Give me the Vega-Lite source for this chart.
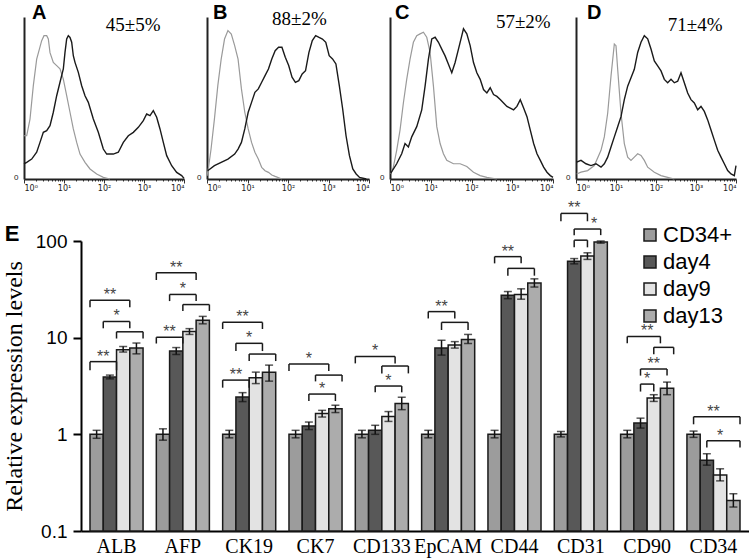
{
  "$schema": "https://vega.github.io/schema/vega-lite/v6.json",
  "background": "white",
  "padding": {"left": 2, "top": 3, "right": 0, "bottom": 2},
  "config": {"view": {"stroke": null}, "font": "Liberation Sans"},
  "datasets": {
    "A_control": [{"decade":0,"count":26.7},{"decade":0.067,"count":26.7},{"decade":0.15,"count":37},{"decade":0.233,"count":57.6},{"decade":0.317,"count":74},{"decade":0.383,"count":80},{"decade":0.442,"count":85.4},{"decade":0.5,"count":88.5},{"decade":0.567,"count":88.5},{"decade":0.608,"count":86.4},{"decade":0.65,"count":78},{"decade":0.733,"count":72},{"decade":0.817,"count":70},{"decade":0.9,"count":68},{"decade":0.983,"count":61.7},{"decade":1.067,"count":51.4},{"decade":1.15,"count":41.2},{"decade":1.233,"count":30.9},{"decade":1.317,"count":22.6},{"decade":1.4,"count":15.4},{"decade":1.525,"count":10.3},{"decade":1.65,"count":6.2},{"decade":1.817,"count":3.1},{"decade":1.983,"count":1},{"decade":2.15,"count":0}],
    "A_stained": [{"decade":0,"count":9.3},{"decade":0.067,"count":10.3},{"decade":0.192,"count":12.3},{"decade":0.317,"count":16.5},{"decade":0.4,"count":22.6},{"decade":0.483,"count":28.8},{"decade":0.567,"count":29.8},{"decade":0.65,"count":32.9},{"decade":0.733,"count":41.2},{"decade":0.817,"count":51.4},{"decade":0.9,"count":59.7},{"decade":0.983,"count":67.9},{"decade":1.025,"count":78.2},{"decade":1.067,"count":86.4},{"decade":1.108,"count":88.5},{"decade":1.15,"count":87.4},{"decade":1.192,"count":84.4},{"decade":1.233,"count":76.1},{"decade":1.275,"count":72},{"decade":1.358,"count":65.8},{"decade":1.442,"count":57.6},{"decade":1.525,"count":51.4},{"decade":1.608,"count":47.3},{"decade":1.733,"count":37},{"decade":1.858,"count":28.8},{"decade":1.983,"count":18.5},{"decade":2.067,"count":15.4},{"decade":2.233,"count":15.4},{"decade":2.358,"count":16.5},{"decade":2.483,"count":22.6},{"decade":2.608,"count":26.7},{"decade":2.733,"count":28.8},{"decade":2.858,"count":31.9},{"decade":2.983,"count":36},{"decade":3.067,"count":40.1},{"decade":3.15,"count":39.1},{"decade":3.233,"count":42.2},{"decade":3.317,"count":38.1},{"decade":3.4,"count":30.9},{"decade":3.483,"count":22.6},{"decade":3.567,"count":14.4},{"decade":3.692,"count":8.2},{"decade":3.817,"count":4.1},{"decade":3.942,"count":2.1},{"decade":4,"count":0.4}],
    "B_control": [{"decade":0,"count":2},{"decade":0.033,"count":6.2},{"decade":0.1,"count":18.5},{"decade":0.183,"count":37},{"decade":0.267,"count":57.6},{"decade":0.35,"count":74},{"decade":0.433,"count":86.4},{"decade":0.517,"count":91.6},{"decade":0.6,"count":89.5},{"decade":0.683,"count":82.3},{"decade":0.767,"count":74},{"decade":0.85,"count":55.6},{"decade":0.933,"count":41.2},{"decade":1.017,"count":30.9},{"decade":1.1,"count":22.6},{"decade":1.183,"count":16.5},{"decade":1.267,"count":12.3},{"decade":1.35,"count":7.2},{"decade":1.433,"count":5.1},{"decade":1.517,"count":4.1},{"decade":1.6,"count":2.5},{"decade":1.683,"count":1.6},{"decade":1.85,"count":0}],
    "B_stained": [{"decade":0.017,"count":5.1},{"decade":0.183,"count":8.2},{"decade":0.35,"count":10.3},{"decade":0.517,"count":12.3},{"decade":0.683,"count":15.4},{"decade":0.767,"count":18.5},{"decade":0.85,"count":22.6},{"decade":0.933,"count":30.9},{"decade":1.017,"count":41.2},{"decade":1.1,"count":47.3},{"decade":1.183,"count":53.5},{"decade":1.267,"count":55.6},{"decade":1.35,"count":59.7},{"decade":1.433,"count":63.8},{"decade":1.517,"count":67.9},{"decade":1.6,"count":74.1},{"decade":1.683,"count":79.2},{"decade":1.767,"count":81.3},{"decade":1.85,"count":81.3},{"decade":1.933,"count":75.1},{"decade":2.017,"count":70},{"decade":2.1,"count":62.8},{"decade":2.183,"count":59.7},{"decade":2.267,"count":60.7},{"decade":2.35,"count":64.8},{"decade":2.433,"count":66.9},{"decade":2.517,"count":78.2},{"decade":2.6,"count":85.4},{"decade":2.683,"count":88.5},{"decade":2.767,"count":87.4},{"decade":2.85,"count":86.4},{"decade":2.933,"count":84.4},{"decade":3.017,"count":76.1},{"decade":3.1,"count":74.1},{"decade":3.183,"count":71},{"decade":3.267,"count":57.6},{"decade":3.35,"count":43.2},{"decade":3.433,"count":26.7},{"decade":3.517,"count":14.4},{"decade":3.6,"count":6.2},{"decade":3.683,"count":3.1},{"decade":3.767,"count":1},{"decade":3.933,"count":0}],
    "C_control": [{"decade":0.016,"count":3.1},{"decade":0.082,"count":7.3},{"decade":0.164,"count":17.7},{"decade":0.246,"count":30.2},{"decade":0.328,"count":46.9},{"decade":0.41,"count":61.5},{"decade":0.492,"count":74},{"decade":0.574,"count":84.4},{"decade":0.656,"count":88.5},{"decade":0.738,"count":89.6},{"decade":0.82,"count":90.6},{"decade":0.902,"count":87.5},{"decade":0.984,"count":78.1},{"decade":1.066,"count":57.3},{"decade":1.148,"count":32.3},{"decade":1.23,"count":21.9},{"decade":1.311,"count":15.6},{"decade":1.393,"count":11.5},{"decade":1.557,"count":9.4},{"decade":1.721,"count":9.4},{"decade":1.885,"count":7.7},{"decade":2.049,"count":4.2},{"decade":2.213,"count":2.1},{"decade":2.377,"count":1},{"decade":2.623,"count":0}],
    "C_stained": [{"decade":0.016,"count":3.5},{"decade":0.164,"count":9.4},{"decade":0.287,"count":15.6},{"decade":0.369,"count":21.9},{"decade":0.451,"count":19.8},{"decade":0.533,"count":26},{"decade":0.656,"count":32.3},{"decade":0.779,"count":42.7},{"decade":0.861,"count":57.3},{"decade":0.943,"count":74},{"decade":1.025,"count":86.5},{"decade":1.107,"count":87.5},{"decade":1.189,"count":84.4},{"decade":1.27,"count":80.2},{"decade":1.352,"count":76},{"decade":1.434,"count":70.8},{"decade":1.516,"count":65.6},{"decade":1.598,"count":71.9},{"decade":1.68,"count":80.2},{"decade":1.762,"count":88.5},{"decade":1.803,"count":92.7},{"decade":1.885,"count":89.6},{"decade":1.967,"count":82.3},{"decade":2.049,"count":71.9},{"decade":2.131,"count":65.6},{"decade":2.213,"count":61.5},{"decade":2.295,"count":55.2},{"decade":2.377,"count":53.1},{"decade":2.459,"count":56.3},{"decade":2.541,"count":52.1},{"decade":2.623,"count":51},{"decade":2.705,"count":49},{"decade":2.787,"count":46.9},{"decade":2.869,"count":44.8},{"decade":2.951,"count":43.8},{"decade":3.033,"count":42.7},{"decade":3.115,"count":44.8},{"decade":3.197,"count":49},{"decade":3.279,"count":43.8},{"decade":3.361,"count":38.5},{"decade":3.443,"count":30.2},{"decade":3.525,"count":21.9},{"decade":3.607,"count":15.6},{"decade":3.689,"count":11.5},{"decade":3.77,"count":7.3},{"decade":3.852,"count":4.2},{"decade":3.934,"count":2.1},{"decade":4,"count":1}],
    "D_control": [{"decade":0.017,"count":3.1},{"decade":0.125,"count":4.2},{"decade":0.292,"count":5.2},{"decade":0.458,"count":8.3},{"decade":0.625,"count":17.7},{"decade":0.708,"count":26},{"decade":0.792,"count":40.6},{"decade":0.875,"count":63.5},{"decade":0.958,"count":83.3},{"decade":1.0,"count":82.3},{"decade":1.042,"count":67.7},{"decade":1.125,"count":40.6},{"decade":1.208,"count":21.9},{"decade":1.292,"count":13.5},{"decade":1.375,"count":11.5},{"decade":1.458,"count":13.5},{"decade":1.542,"count":15.6},{"decade":1.625,"count":14.6},{"decade":1.708,"count":11.5},{"decade":1.792,"count":7.3},{"decade":1.958,"count":4.2},{"decade":2.125,"count":2.1},{"decade":2.292,"count":1},{"decade":2.458,"count":0}],
    "D_stained": [{"decade":0.017,"count":10.4},{"decade":0.125,"count":11.5},{"decade":0.25,"count":9.4},{"decade":0.375,"count":8.3},{"decade":0.5,"count":9.4},{"decade":0.625,"count":7.3},{"decade":0.708,"count":9.4},{"decade":0.792,"count":13.5},{"decade":0.875,"count":19.8},{"decade":0.958,"count":26},{"decade":1.042,"count":32.3},{"decade":1.125,"count":38.5},{"decade":1.208,"count":49},{"decade":1.292,"count":57.3},{"decade":1.375,"count":62.5},{"decade":1.458,"count":67.7},{"decade":1.542,"count":78.1},{"decade":1.625,"count":84.4},{"decade":1.708,"count":88.5},{"decade":1.792,"count":86.5},{"decade":1.875,"count":80.2},{"decade":1.958,"count":72.9},{"decade":2.042,"count":69.8},{"decade":2.125,"count":66.7},{"decade":2.208,"count":61.5},{"decade":2.292,"count":59.4},{"decade":2.375,"count":61.5},{"decade":2.458,"count":59.4},{"decade":2.542,"count":60.4},{"decade":2.625,"count":65.6},{"decade":2.708,"count":59.4},{"decade":2.792,"count":53.1},{"decade":2.875,"count":49},{"decade":2.958,"count":46.9},{"decade":3.042,"count":42.7},{"decade":3.125,"count":44.8},{"decade":3.208,"count":41.7},{"decade":3.292,"count":36.5},{"decade":3.375,"count":30.2},{"decade":3.458,"count":24},{"decade":3.542,"count":17.7},{"decade":3.625,"count":13.5},{"decade":3.708,"count":9.4},{"decade":3.792,"count":5.2},{"decade":3.875,"count":3.1},{"decade":3.958,"count":2.1},{"decade":4,"count":8.3}],
    "expr": [
      {"gene":"ALB","group":"CD34+","value":1,"lo":0.91,"hi":1.1},{"gene":"ALB","group":"day4","value":3.92,"lo":3.75,"hi":4.1},{"gene":"ALB","group":"day9","value":7.5,"lo":7.1,"hi":8.1},{"gene":"ALB","group":"day13","value":7.8,"lo":6.8,"hi":8.8},
      {"gene":"AFP","group":"CD34+","value":1,"lo":0.87,"hi":1.14},{"gene":"AFP","group":"day4","value":7.3,"lo":6.7,"hi":7.9},{"gene":"AFP","group":"day9","value":11.6,"lo":10.8,"hi":12.4},{"gene":"AFP","group":"day13","value":15.1,"lo":13.9,"hi":16.6},
      {"gene":"CK19","group":"CD34+","value":1,"lo":0.92,"hi":1.1},{"gene":"CK19","group":"day4","value":2.43,"lo":2.18,"hi":2.7},{"gene":"CK19","group":"day9","value":3.85,"lo":3.35,"hi":4.4},{"gene":"CK19","group":"day13","value":4.4,"lo":3.55,"hi":5.2},
      {"gene":"CK7","group":"CD34+","value":1,"lo":0.92,"hi":1.1},{"gene":"CK7","group":"day4","value":1.22,"lo":1.12,"hi":1.34},{"gene":"CK7","group":"day9","value":1.64,"lo":1.51,"hi":1.77},{"gene":"CK7","group":"day13","value":1.84,"lo":1.68,"hi":2.0},
      {"gene":"CD133","group":"CD34+","value":1,"lo":0.92,"hi":1.1},{"gene":"CD133","group":"day4","value":1.1,"lo":1.0,"hi":1.24},{"gene":"CD133","group":"day9","value":1.53,"lo":1.36,"hi":1.72},{"gene":"CD133","group":"day13","value":2.08,"lo":1.8,"hi":2.42},
      {"gene":"EpCAM","group":"CD34+","value":1,"lo":0.92,"hi":1.1},{"gene":"EpCAM","group":"day4","value":7.8,"lo":6.6,"hi":9.4},{"gene":"EpCAM","group":"day9","value":8.4,"lo":7.8,"hi":9.1},{"gene":"EpCAM","group":"day13","value":9.6,"lo":8.7,"hi":10.8},
      {"gene":"CD44","group":"CD34+","value":1,"lo":0.92,"hi":1.1},{"gene":"CD44","group":"day4","value":27.4,"lo":25.3,"hi":30},{"gene":"CD44","group":"day9","value":28,"lo":25,"hi":32},{"gene":"CD44","group":"day13","value":36.8,"lo":33.4,"hi":40.6},
      {"gene":"CD31","group":"CD34+","value":1,"lo":0.94,"hi":1.07},{"gene":"CD31","group":"day4","value":61.6,"lo":58,"hi":65.8},{"gene":"CD31","group":"day9","value":70,"lo":64.5,"hi":75.5},{"gene":"CD31","group":"day13","value":97.6,"lo":95,"hi":100},
      {"gene":"CD90","group":"CD34+","value":1,"lo":0.92,"hi":1.1},{"gene":"CD90","group":"day4","value":1.31,"lo":1.16,"hi":1.47},{"gene":"CD90","group":"day9","value":2.38,"lo":2.19,"hi":2.57},{"gene":"CD90","group":"day13","value":3.0,"lo":2.57,"hi":3.47},
      {"gene":"CD34","group":"CD34+","value":1,"lo":0.93,"hi":1.08},{"gene":"CD34","group":"day4","value":0.54,"lo":0.48,"hi":0.63},{"gene":"CD34","group":"day9","value":0.38,"lo":0.33,"hi":0.44},{"gene":"CD34","group":"day13","value":0.207,"lo":0.177,"hi":0.243}
    ],
    "brackets": [
      {"gene":"ALB","id":"ALB1","anchor":"CD34+ start","top":24.4,"tick":20.6},{"gene":"ALB","id":"ALB1","anchor":"day9/day13","top":24.4,"tick":20.6},
      {"gene":"ALB","id":"ALB2","anchor":"CD34+/day4","top":14.7,"tick":12.5},{"gene":"ALB","id":"ALB2","anchor":"day9/day13","top":14.7,"tick":12.5},
      {"gene":"ALB","id":"ALB3","anchor":"day4/day9","top":11.5,"tick":9.8},{"gene":"ALB","id":"ALB3","anchor":"day13 end","top":11.5,"tick":9.8},
      {"gene":"ALB","id":"ALB4","anchor":"CD34+ start","top":5.65,"tick":4.6},{"gene":"ALB","id":"ALB4","anchor":"day4/day9","top":5.65,"tick":4.6},
      {"gene":"AFP","id":"AFP1","anchor":"CD34+ start","top":47,"tick":39.5},{"gene":"AFP","id":"AFP1","anchor":"day9/day13","top":47,"tick":39.5},
      {"gene":"AFP","id":"AFP2","anchor":"CD34+/day4","top":28,"tick":23.9},{"gene":"AFP","id":"AFP2","anchor":"day9/day13","top":28,"tick":23.9},
      {"gene":"AFP","id":"AFP3","anchor":"day4/day9","top":22,"tick":18.9},{"gene":"AFP","id":"AFP3","anchor":"day13 end","top":22,"tick":18.9},
      {"gene":"AFP","id":"AFP4","anchor":"CD34+ start","top":10.1,"tick":8.7},{"gene":"AFP","id":"AFP4","anchor":"day4/day9","top":10.1,"tick":8.7},
      {"gene":"CK19","id":"CK19_1","anchor":"CD34+ start","top":14.4,"tick":12.3},{"gene":"CK19","id":"CK19_1","anchor":"day9/day13","top":14.4,"tick":12.3},
      {"gene":"CK19","id":"CK19_2","anchor":"CD34+/day4","top":8.74,"tick":7.27},{"gene":"CK19","id":"CK19_2","anchor":"day9/day13","top":8.74,"tick":7.27},
      {"gene":"CK19","id":"CK19_3","anchor":"day4/day9","top":6.77,"tick":5.73},{"gene":"CK19","id":"CK19_3","anchor":"day13 end","top":6.77,"tick":5.73},
      {"gene":"CK19","id":"CK19_4","anchor":"CD34+ start","top":3.64,"tick":3.04},{"gene":"CK19","id":"CK19_4","anchor":"day4/day9","top":3.64,"tick":3.04},
      {"gene":"CK7","id":"CK7_1","anchor":"CD34+ start","top":5.34,"tick":4.52},{"gene":"CK7","id":"CK7_1","anchor":"day9/day13","top":5.34,"tick":4.52},
      {"gene":"CK7","id":"CK7_2","anchor":"day4/day9","top":4.1,"tick":3.53},{"gene":"CK7","id":"CK7_2","anchor":"day13 end","top":4.1,"tick":3.53},
      {"gene":"CK7","id":"CK7_3","anchor":"day4","top":2.61,"tick":2.21},{"gene":"CK7","id":"CK7_3","anchor":"day13","top":2.61,"tick":2.21},
      {"gene":"CD133","id":"CD133_1","anchor":"CD34+ start","top":6.4,"tick":5.42},{"gene":"CD133","id":"CD133_1","anchor":"day9/day13","top":6.4,"tick":5.42},
      {"gene":"CD133","id":"CD133_2","anchor":"day4/day9","top":5.09,"tick":4.27},{"gene":"CD133","id":"CD133_2","anchor":"day13 end","top":5.09,"tick":4.27},
      {"gene":"CD133","id":"CD133_3","anchor":"day4","top":3.16,"tick":2.72},{"gene":"CD133","id":"CD133_3","anchor":"day13","top":3.16,"tick":2.72},
      {"gene":"EpCAM","id":"EpCAM1","anchor":"CD34+","top":18.6,"tick":15.8},{"gene":"EpCAM","id":"EpCAM1","anchor":"day9","top":18.6,"tick":15.8},
      {"gene":"EpCAM","id":"EpCAM2","anchor":"day4","top":14.4,"tick":12.0},{"gene":"EpCAM","id":"EpCAM2","anchor":"day13","top":14.4,"tick":12.0},
      {"gene":"CD44","id":"CD44_1","anchor":"CD34+","top":68.9,"tick":58.7},{"gene":"CD44","id":"CD44_1","anchor":"day9","top":68.9,"tick":58.7},
      {"gene":"CD44","id":"CD44_2","anchor":"day4","top":52.1,"tick":43.8},{"gene":"CD44","id":"CD44_2","anchor":"day13","top":52.1,"tick":43.8},
      {"gene":"CD31","id":"CD31_1","anchor":"CD34+","top":193,"tick":160},{"gene":"CD31","id":"CD31_1","anchor":"day9","top":193,"tick":160},
      {"gene":"CD31","id":"CD31_2","anchor":"day4","top":133,"tick":115},{"gene":"CD31","id":"CD31_2","anchor":"day13","top":133,"tick":115},
      {"gene":"CD31","id":"CD31_3","anchor":"day4","top":102,"tick":86},{"gene":"CD31","id":"CD31_3","anchor":"day9","top":102,"tick":86},
      {"gene":"CD90","id":"CD90_1","anchor":"CD34+","top":10.3,"tick":8.74},{"gene":"CD90","id":"CD90_1","anchor":"day9/day13","top":10.3,"tick":8.74},
      {"gene":"CD90","id":"CD90_2","anchor":"day9","top":7.94,"tick":6.73},{"gene":"CD90","id":"CD90_2","anchor":"day13 end","top":7.94,"tick":6.73},
      {"gene":"CD90","id":"CD90_3","anchor":"day4","top":4.74,"tick":4.05},{"gene":"CD90","id":"CD90_3","anchor":"day13","top":4.74,"tick":4.05},
      {"gene":"CD90","id":"CD90_4","anchor":"day4","top":3.31,"tick":2.77},{"gene":"CD90","id":"CD90_4","anchor":"day9","top":3.31,"tick":2.77},
      {"gene":"CD34","id":"CD34_1","anchor":"CD34+","top":1.52,"tick":1.27},{"gene":"CD34","id":"CD34_1","anchor":"day13 end","top":1.52,"tick":1.27},
      {"gene":"CD34","id":"CD34_2","anchor":"day4","top":0.86,"tick":0.73},{"gene":"CD34","id":"CD34_2","anchor":"day13 end","top":0.86,"tick":0.73}
    ],
    "stars": [
      {"gene":"ALB","anchor":"day4","top":24.4,"label":"**"},{"gene":"ALB","anchor":"day4/day9","top":14.7,"label":"*"},{"gene":"ALB","anchor":"CD34+/day4","top":5.65,"label":"**"},
      {"gene":"AFP","anchor":"day4","top":47,"label":"**"},{"gene":"AFP","anchor":"day4/day9","top":28,"label":"*"},{"gene":"AFP","anchor":"CD34+/day4","top":10.1,"label":"**"},
      {"gene":"CK19","anchor":"day4","top":14.4,"label":"**"},{"gene":"CK19","anchor":"day4/day9","top":8.74,"label":"*"},{"gene":"CK19","anchor":"CD34+/day4","top":3.64,"label":"**"},
      {"gene":"CK7","anchor":"day4","top":5.34,"label":"*"},{"gene":"CK7","anchor":"day9","top":2.61,"label":"*"},
      {"gene":"CD133","anchor":"day4","top":6.4,"label":"*"},{"gene":"CD133","anchor":"day9","top":3.16,"label":"*"},
      {"gene":"EpCAM","anchor":"day4","top":18.6,"label":"**"},
      {"gene":"CD44","anchor":"day4","top":68.9,"label":"**"},
      {"gene":"CD31","anchor":"day4","top":193,"label":"**"},{"gene":"CD31","anchor":"day9/day13","top":133,"label":"*"},
      {"gene":"CD90","anchor":"day4/day9","top":10.3,"label":"**"},{"gene":"CD90","anchor":"day9","top":4.74,"label":"**"},{"gene":"CD90","anchor":"day4/day9","top":3.31,"label":"*"},
      {"gene":"CD34","anchor":"day4/day9","top":1.52,"label":"**"},{"gene":"CD34","anchor":"day9","top":0.86,"label":"*"}
    ]
  },
  "spacing": 8,
  "resolve": {"scale": {"color": "independent"}, "legend": {"color": "independent"}},
  "vconcat": [
    {
      "spacing": 9,
      "hconcat": [
        {
          "width": 160, "height": 162,
          "layer": [
            {"data": {"name": "A_control"}, "mark": {"type": "line", "color": "#9a9a9a", "strokeWidth": 1.2},
             "encoding": {
               "x": {"field": "decade", "type": "quantitative", "scale": {"domain": [0, 4], "nice": false, "zero": false},
                     "axis": {"title": null, "grid": false, "tickCount": 60, "values": [0,0.301,0.477,0.602,0.699,0.778,0.845,0.903,0.954,1,1.301,1.477,1.602,1.699,1.778,1.845,1.903,1.954,2,2.301,2.477,2.602,2.699,2.778,2.845,2.903,2.954,3,3.301,3.477,3.602,3.699,3.778,3.845,3.903,3.954,4], "labelExpr": "datum.value === 0 ? '10⁰' : datum.value === 1 ? '10¹' : datum.value === 2 ? '10²' : datum.value === 3 ? '10³' : datum.value === 4 ? '10⁴' : ''", "labelOverlap": false, "tickSize": {"condition": {"test": "datum.value % 1 === 0", "value": 4}, "value": 2}, "tickColor": "#333", "domainColor": "#222", "domainWidth": 2, "labelFontSize": 8, "labelFont": "DejaVu Sans", "labelColor": "#222", "labelPadding": 1}},
               "y": {"field": "count", "type": "quantitative", "scale": {"domain": [0, 100], "nice": false},
                     "axis": {"title": null, "grid": false, "values": [0], "labelExpr": "'0'", "ticks": false, "domainColor": "#222", "domainWidth": 2, "labelFontSize": 8, "labelPadding": 6, "labelColor": "#222", "labelBaseline": "alphabetic"}}
             }},
            {"data": {"name": "A_stained"}, "mark": {"type": "line", "color": "#1a1a1a", "strokeWidth": 1.4},
             "encoding": {"x": {"field": "decade", "type": "quantitative"}, "y": {"field": "count", "type": "quantitative"}}},
            {"data": {"values": [{"label": "45±5%"}]}, "mark": {"type": "text", "font": "Liberation Serif", "fontSize": 19, "color": "black"},
             "encoding": {"x": {"datum": 2.73, "type": "quantitative"}, "y": {"datum": 95, "type": "quantitative"}, "text": {"field": "label", "type": "nominal"}}},
            {"data": {"values": [{"panel": "A"}]}, "mark": {"type": "text", "font": "Liberation Sans", "fontSize": 20, "fontWeight": "bold", "color": "black", "align": "left", "baseline": "alphabetic"},
             "encoding": {"x": {"datum": 0.2, "type": "quantitative"}, "y": {"datum": 98.5, "type": "quantitative"}, "text": {"field": "panel", "type": "nominal"}}}
          ]
        },
        {
          "width": 162, "height": 162,
          "layer": [
            {"data": {"name": "B_control"}, "mark": {"type": "line", "color": "#9a9a9a", "strokeWidth": 1.2},
             "encoding": {
               "x": {"field": "decade", "type": "quantitative", "scale": {"domain": [0, 4], "nice": false, "zero": false},
                     "axis": {"title": null, "grid": false, "tickCount": 60, "values": [0,0.301,0.477,0.602,0.699,0.778,0.845,0.903,0.954,1,1.301,1.477,1.602,1.699,1.778,1.845,1.903,1.954,2,2.301,2.477,2.602,2.699,2.778,2.845,2.903,2.954,3,3.301,3.477,3.602,3.699,3.778,3.845,3.903,3.954,4], "labelExpr": "datum.value === 0 ? '10⁰' : datum.value === 1 ? '10¹' : datum.value === 2 ? '10²' : datum.value === 3 ? '10³' : datum.value === 4 ? '10⁴' : ''", "labelOverlap": false, "tickSize": {"condition": {"test": "datum.value % 1 === 0", "value": 4}, "value": 2}, "tickColor": "#333", "domainColor": "#222", "domainWidth": 2, "labelFontSize": 8, "labelFont": "DejaVu Sans", "labelColor": "#222", "labelPadding": 1}},
               "y": {"field": "count", "type": "quantitative", "scale": {"domain": [0, 100], "nice": false},
                     "axis": {"title": null, "grid": false, "values": [0], "labelExpr": "'0'", "ticks": false, "domainColor": "#222", "domainWidth": 2, "labelFontSize": 8, "labelPadding": 6, "labelColor": "#222", "labelBaseline": "alphabetic"}}
             }},
            {"data": {"name": "B_stained"}, "mark": {"type": "line", "color": "#1a1a1a", "strokeWidth": 1.4},
             "encoding": {"x": {"field": "decade", "type": "quantitative"}, "y": {"field": "count", "type": "quantitative"}}},
            {"data": {"values": [{"label": "88±2%"}]}, "mark": {"type": "text", "font": "Liberation Serif", "fontSize": 19, "color": "black"},
             "encoding": {"x": {"datum": 2.28, "type": "quantitative"}, "y": {"datum": 98.5, "type": "quantitative"}, "text": {"field": "label", "type": "nominal"}}},
            {"data": {"values": [{"panel": "B"}]}, "mark": {"type": "text", "font": "Liberation Sans", "fontSize": 20, "fontWeight": "bold", "color": "black", "align": "left", "baseline": "alphabetic"},
             "encoding": {"x": {"datum": 0.15, "type": "quantitative"}, "y": {"datum": 98.5, "type": "quantitative"}, "text": {"field": "panel", "type": "nominal"}}}
          ]
        },
        {
          "width": 163, "height": 162,
          "layer": [
            {"data": {"name": "C_control"}, "mark": {"type": "line", "color": "#9a9a9a", "strokeWidth": 1.2},
             "encoding": {
               "x": {"field": "decade", "type": "quantitative", "scale": {"domain": [0, 4], "nice": false, "zero": false},
                     "axis": {"title": null, "grid": false, "tickCount": 60, "values": [0,0.301,0.477,0.602,0.699,0.778,0.845,0.903,0.954,1,1.301,1.477,1.602,1.699,1.778,1.845,1.903,1.954,2,2.301,2.477,2.602,2.699,2.778,2.845,2.903,2.954,3,3.301,3.477,3.602,3.699,3.778,3.845,3.903,3.954,4], "labelExpr": "datum.value === 0 ? '10⁰' : datum.value === 1 ? '10¹' : datum.value === 2 ? '10²' : datum.value === 3 ? '10³' : datum.value === 4 ? '10⁴' : ''", "labelOverlap": false, "tickSize": {"condition": {"test": "datum.value % 1 === 0", "value": 4}, "value": 2}, "tickColor": "#333", "domainColor": "#222", "domainWidth": 2, "labelFontSize": 8, "labelFont": "DejaVu Sans", "labelColor": "#222", "labelPadding": 1}},
               "y": {"field": "count", "type": "quantitative", "scale": {"domain": [0, 100], "nice": false},
                     "axis": {"title": null, "grid": false, "values": [0], "labelExpr": "'0'", "ticks": false, "domainColor": "#222", "domainWidth": 2, "labelFontSize": 8, "labelPadding": 6, "labelColor": "#222", "labelBaseline": "alphabetic"}}
             }},
            {"data": {"name": "C_stained"}, "mark": {"type": "line", "color": "#1a1a1a", "strokeWidth": 1.4},
             "encoding": {"x": {"field": "decade", "type": "quantitative"}, "y": {"field": "count", "type": "quantitative"}}},
            {"data": {"values": [{"label": "57±2%"}]}, "mark": {"type": "text", "font": "Liberation Serif", "fontSize": 19, "color": "black"},
             "encoding": {"x": {"datum": 3.27, "type": "quantitative"}, "y": {"datum": 97, "type": "quantitative"}, "text": {"field": "label", "type": "nominal"}}},
            {"data": {"values": [{"panel": "C"}]}, "mark": {"type": "text", "font": "Liberation Sans", "fontSize": 20, "fontWeight": "bold", "color": "black", "align": "left", "baseline": "alphabetic"},
             "encoding": {"x": {"datum": 0.12, "type": "quantitative"}, "y": {"datum": 98.5, "type": "quantitative"}, "text": {"field": "panel", "type": "nominal"}}}
          ]
        },
        {
          "width": 160, "height": 162,
          "layer": [
            {"data": {"name": "D_control"}, "mark": {"type": "line", "color": "#9a9a9a", "strokeWidth": 1.2},
             "encoding": {
               "x": {"field": "decade", "type": "quantitative", "scale": {"domain": [0, 4], "nice": false, "zero": false},
                     "axis": {"title": null, "grid": false, "tickCount": 60, "values": [0,0.301,0.477,0.602,0.699,0.778,0.845,0.903,0.954,1,1.301,1.477,1.602,1.699,1.778,1.845,1.903,1.954,2,2.301,2.477,2.602,2.699,2.778,2.845,2.903,2.954,3,3.301,3.477,3.602,3.699,3.778,3.845,3.903,3.954,4], "labelExpr": "datum.value === 0 ? '10⁰' : datum.value === 1 ? '10¹' : datum.value === 2 ? '10²' : datum.value === 3 ? '10³' : datum.value === 4 ? '10⁴' : ''", "labelOverlap": false, "tickSize": {"condition": {"test": "datum.value % 1 === 0", "value": 4}, "value": 2}, "tickColor": "#333", "domainColor": "#222", "domainWidth": 2, "labelFontSize": 8, "labelFont": "DejaVu Sans", "labelColor": "#222", "labelPadding": 1}},
               "y": {"field": "count", "type": "quantitative", "scale": {"domain": [0, 100], "nice": false},
                     "axis": {"title": null, "grid": false, "values": [0], "labelExpr": "'0'", "ticks": false, "domainColor": "#222", "domainWidth": 2, "labelFontSize": 8, "labelPadding": 6, "labelColor": "#222", "labelBaseline": "alphabetic"}}
             }},
            {"data": {"name": "D_stained"}, "mark": {"type": "line", "color": "#1a1a1a", "strokeWidth": 1.4},
             "encoding": {"x": {"field": "decade", "type": "quantitative"}, "y": {"field": "count", "type": "quantitative"}}},
            {"data": {"values": [{"label": "71±4%"}]}, "mark": {"type": "text", "font": "Liberation Serif", "fontSize": 19, "color": "black"},
             "encoding": {"x": {"datum": 2.98, "type": "quantitative"}, "y": {"datum": 95, "type": "quantitative"}, "text": {"field": "label", "type": "nominal"}}},
            {"data": {"values": [{"panel": "D"}]}, "mark": {"type": "text", "font": "Liberation Sans", "fontSize": 20, "fontWeight": "bold", "color": "black", "align": "left", "baseline": "alphabetic"},
             "encoding": {"x": {"datum": 0.275, "type": "quantitative"}, "y": {"datum": 98.5, "type": "quantitative"}, "text": {"field": "panel", "type": "nominal"}}}
          ]
        }
      ]
    },
    {
      "width": 725, "height": 290,
      "title": {"text": "E", "orient": "left", "anchor": "end", "frame": "group", "angle": 0, "align": "left", "baseline": "alphabetic", "offset": 0, "dx": 17, "fontSize": 22, "fontWeight": "bold", "font": "Liberation Sans", "color": "black"},
      "resolve": {"scale": {"xOffset": "independent"}},
      "layer": [
        {"data": {"name": "expr"}, "mark": {"type": "bar", "stroke": "#1a1a1a", "strokeWidth": 1.5},
         "encoding": {
           "x": {"field": "gene", "type": "nominal", "scale": {"domain": ["ALB","AFP","CK19","CK7","CD133","EpCAM","CD44","CD31","CD90","CD34"], "paddingInner": 0.2, "paddingOuter": 0.5654, "align": 0.88},
                 "axis": {"title": null, "labelAngle": 0, "labelFont": "Liberation Serif", "labelFontSize": 20, "labelColor": "black", "ticks": false, "domainColor": "black", "domainWidth": 2, "domainDash": [0, 57, 2000], "labelPadding": 5}},
           "xOffset": {"field": "group", "type": "nominal", "scale": {"domain": ["CD34+","day4","day9","day13"], "paddingInner": 0, "paddingOuter": 0}},
           "y": {"field": "value", "type": "quantitative", "scale": {"type": "log", "domain": [0.1, 100], "nice": false},
                 "axis": {"title": "Relative expression levels", "titleFont": "Liberation Serif", "titleFontSize": 24, "titleFontWeight": "normal", "titleColor": "black", "titlePadding": 9, "offset": -57,
                          "values": [0.1, 1, 10, 100], "format": "~g", "labelFont": "Liberation Sans", "labelFontSize": 19, "labelColor": "black", "labelPadding": 6,
                          "tickSize": 8, "tickWidth": 2, "tickColor": "black", "domainColor": "black", "domainWidth": 2, "grid": false}},
           "y2": {"datum": 0.1},
           "color": {"field": "group", "type": "nominal", "scale": {"domain": ["CD34+","day4","day9","day13"], "range": ["#9c9c9c","#585858","#e3e3e3","#acacac"]},
                     "legend": {"orient": "none", "legendX": 615, "legendY": -17, "padding": 0, "title": null, "symbolType": "square", "symbolSize": 144, "symbolStrokeColor": "#1a1a1a", "symbolStrokeWidth": 1.5, "symbolOpacity": 1, "labelFont": "Liberation Sans", "labelFontSize": 22, "labelColor": "black", "rowPadding": 5, "labelOffset": 2}}
         }},
        {"data": {"name": "expr"}, "mark": {"type": "rule", "color": "#111", "strokeWidth": 1.5},
         "encoding": {
           "x": {"field": "gene", "type": "nominal"},
           "xOffset": {"field": "group", "type": "nominal", "scale": {"domain": ["CD34+","day4","day9","day13"], "paddingInner": 0, "paddingOuter": 0}},
           "y": {"field": "lo", "type": "quantitative"}, "y2": {"field": "hi"}}},
        {"data": {"name": "expr"}, "mark": {"type": "tick", "color": "#111", "thickness": 1.5, "size": 8},
         "encoding": {
           "x": {"field": "gene", "type": "nominal"},
           "xOffset": {"field": "group", "type": "nominal", "scale": {"domain": ["CD34+","day4","day9","day13"], "paddingInner": 0, "paddingOuter": 0}},
           "y": {"field": "lo", "type": "quantitative"}}},
        {"data": {"name": "expr"}, "mark": {"type": "tick", "color": "#111", "thickness": 1.5, "size": 8},
         "encoding": {
           "x": {"field": "gene", "type": "nominal"},
           "xOffset": {"field": "group", "type": "nominal", "scale": {"domain": ["CD34+","day4","day9","day13"], "paddingInner": 0, "paddingOuter": 0}},
           "y": {"field": "hi", "type": "quantitative"}}},
        {"data": {"name": "brackets"}, "mark": {"type": "line", "color": "#1a1a1a", "strokeWidth": 1.5},
         "encoding": {
           "x": {"field": "gene", "type": "nominal"},
           "xOffset": {"field": "anchor", "type": "nominal", "scale": {"type": "point", "domain": ["CD34+ start","CD34+","CD34+/day4","day4","day4/day9","day9","day9/day13","day13","day13 end"], "padding": 0}},
           "y": {"field": "top", "type": "quantitative"},
           "detail": {"field": "id", "type": "nominal"}}},
        {"data": {"name": "brackets"}, "mark": {"type": "rule", "color": "#1a1a1a", "strokeWidth": 1.5},
         "encoding": {
           "x": {"field": "gene", "type": "nominal"},
           "xOffset": {"field": "anchor", "type": "nominal", "scale": {"type": "point", "domain": ["CD34+ start","CD34+","CD34+/day4","day4","day4/day9","day9","day9/day13","day13","day13 end"], "padding": 0}},
           "y": {"field": "top", "type": "quantitative"}, "y2": {"field": "tick"}}},
        {"data": {"name": "stars"}, "mark": {"type": "text", "font": "Liberation Sans", "fontSize": 16, "color": "#444", "baseline": "alphabetic"},
         "encoding": {
           "x": {"field": "gene", "type": "nominal"},
           "xOffset": {"field": "anchor", "type": "nominal", "scale": {"type": "point", "domain": ["CD34+ start","CD34+","CD34+/day4","day4","day4/day9","day9","day9/day13","day13","day13 end"], "padding": 0}},
           "y": {"field": "top", "type": "quantitative"},
           "text": {"field": "label", "type": "nominal"}}}
      ]
    }
  ]
}
